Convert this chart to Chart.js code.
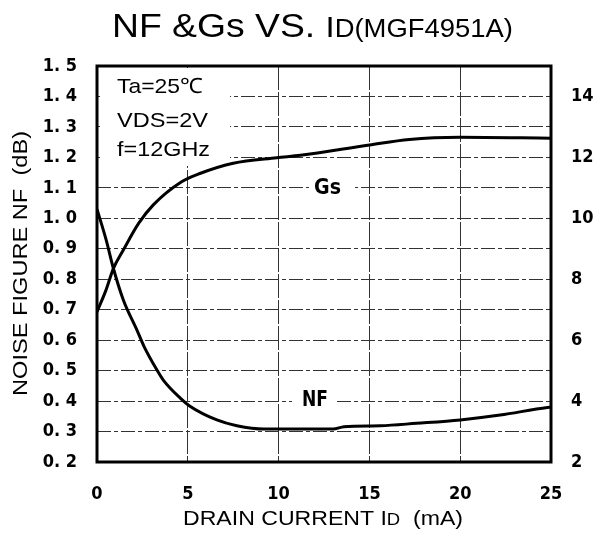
<!DOCTYPE html>
<html>
<head>
<meta charset="utf-8">
<script src="https://cdn.jsdelivr.net/npm/chart.js@4.4.0/dist/chart.umd.min.js"></script>
<style>
    html, body { margin: 0; padding: 0; background: #fff; }
    #wrap { width: 594px; height: 541px; }
</style>
</head>
<body>
<div id="wrap"><canvas id="nfgs-chart" width="594" height="541"></canvas></div>
<script>
// Drain current (mA) -> noise figure (dB), left axis
const nfCurrent = [0, 0.5, 0.9, 1.45, 2.2, 2.6, 3.3, 3.65, 4.6, 5.1, 6.6, 7.7, 9.2, 11, 13, 13.6, 15.6, 17.6, 20, 22.2, 24.8, 25];
const nfValues  = [1.03, 0.93, 0.836, 0.732, 0.633, 0.578, 0.502, 0.469, 0.409, 0.384, 0.338, 0.319, 0.308, 0.308, 0.308, 0.316, 0.319, 0.327, 0.338, 0.354, 0.379, 0.38];

// Drain current (mA) -> associated gain Gs (dB), right axis
const gsCurrent = [0, 0.5, 0.9, 1.45, 2.3, 3.1, 4.66, 5.7, 7.5, 9.9, 11.2, 15, 17.2, 20, 25];
const gsValues  = [6.93, 7.65, 8.35, 8.96, 9.84, 10.44, 11.2, 11.48, 11.81, 11.99, 12.07, 12.41, 12.59, 12.66, 12.63];

// Tick values
const currentTicks = [0, 5, 10, 15, 20, 25];
const nfTicks = [0.2, 0.3, 0.4, 0.5, 0.6, 0.7, 0.8, 0.9, 1.0, 1.1, 1.2, 1.3, 1.4, 1.5];
const gsTicks = [2, 4, 6, 8, 10, 12, 14];

const SANS = "'Liberation Sans', Arial, sans-serif";
const NARROW = "'Liberation Sans Narrow', 'DejaVu Sans Condensed', sans-serif";
const tickFont = { family: NARROW, size: 18, weight: 'bold' };

/**
 * Draw text made of parts with different sizes, squeezed to a given width.
 */
function drawParts(ctx, parts, family, weight, width) {
    let w = 0;
    parts.forEach(p => {
        ctx.font = `${weight} ${p[1]}px ${family}`;
        w += ctx.measureText(p[0]).width;
    });
    ctx.scale(width ? width / w : 1, 1);
    let cx = 0;
    parts.forEach(p => {
        ctx.font = `${weight} ${p[1]}px ${family}`;
        ctx.fillText(p[0], cx, 0);
        cx += ctx.measureText(p[0]).width;
    });
}

const labelsPlugin = {
    id: 'labels',
    beforeDatasetsDraw(chart) {
        const ctx = chart.ctx;
        ctx.save();
        // blank areas behind the condition box and the curve labels
        ctx.fillStyle = '#fff';
        ctx.fillRect(100, 68, 130, 98);
        ctx.fillRect(309, 176, 46, 21);
        ctx.fillRect(292, 386, 45, 24);

        ctx.fillStyle = '#000';
        ctx.textAlign = 'left';
        ctx.textBaseline = 'alphabetic';
        [['Ta=25℃', 93, 86], ['VDS=2V', 127, 91], ['f=12GHz', 156, 93]].forEach(t => {
            ctx.save();
            ctx.translate(117, t[1]);
            drawParts(ctx, [[t[0], 21]], SANS, 'normal', t[2]);
            ctx.restore();
        });

        ctx.save();
        ctx.translate(314, 194);
        drawParts(ctx, [['Gs', 22]], NARROW, 'bold', 27);
        ctx.restore();

        ctx.save();
        ctx.translate(302, 406);
        drawParts(ctx, [['NF', 21]], NARROW, 'bold', 26);
        ctx.restore();
        ctx.restore();
    },
    afterDraw(chart) {
        const ctx = chart.ctx;
        const a = chart.chartArea;
        ctx.save();
        ctx.strokeStyle = '#000';
        ctx.lineWidth = 3;
        ctx.setLineDash([]);
        ctx.strokeRect(a.left, a.top, a.right - a.left, a.bottom - a.top);

        ctx.fillStyle = '#000';
        ctx.textAlign = 'left';
        ctx.textBaseline = 'alphabetic';

        // title
        ctx.save();
        ctx.translate(112, 37);
        drawParts(ctx, [['NF &Gs VS. ', 34], ['I', 30], ['D(MGF4951A)', 25]], SANS, 'normal', 401);
        ctx.restore();

        // x axis title
        ctx.save();
        ctx.translate(183, 525);
        drawParts(ctx, [['DRAIN CURRENT I', 20], ['D', 16], ['  (mA)', 20]], SANS, 'normal', 280);
        ctx.restore();

        // y axis title
        ctx.save();
        ctx.translate(27, 396);
        ctx.rotate(-Math.PI / 2);
        drawParts(ctx, [['NOISE FIGURE NF  (dB)', 21]], SANS, 'normal', 265);
        ctx.restore();
        ctx.restore();
    }
};

const ctx = document.getElementById('nfgs-chart');

new Chart(ctx, {
    type: 'line',
    data: {
        datasets: [
            {
                label: 'NF',
                data: nfCurrent.map((x, i) => ({ x: x, y: nfValues[i] })),
                yAxisID: 'y',
                borderColor: '#000',
                borderWidth: 3,
                pointRadius: 0,
                cubicInterpolationMode: 'monotone'
            },
            {
                label: 'Gs',
                data: gsCurrent.map((x, i) => ({ x: x, y: gsValues[i] })),
                yAxisID: 'y2',
                borderColor: '#000',
                borderWidth: 3,
                pointRadius: 0,
                cubicInterpolationMode: 'monotone'
            }
        ]
    },
    options: {
        responsive: false,
        animation: false,
        layout: { padding: { top: 66, left: 0, right: 0, bottom: 0 } },
        plugins: {
            legend: { display: false },
            tooltip: { enabled: false },
            title: { display: false }
        },
        scales: {
            x: {
                type: 'linear',
                min: 0,
                max: 25,
                afterBuildTicks: s => { s.ticks = currentTicks.map(v => ({ value: v })); },
                afterFit: s => { s.height = 79; },
                ticks: { font: tickFont, color: '#000', padding: 22, maxRotation: 0 },
                grid: { color: '#333', lineWidth: 1, drawTicks: false },
                border: { display: false, dash: [24, 2] }
            },
            y: {
                type: 'linear',
                position: 'left',
                min: 0.2,
                max: 1.5,
                afterBuildTicks: s => { s.ticks = nfTicks.map(v => ({ value: v })); },
                afterFit: s => { s.width = 97; },
                ticks: {
                    font: tickFont,
                    color: '#000',
                    padding: 20,
                    callback: v => v.toFixed(1).replace('.', '. ')
                },
                grid: { color: '#333', lineWidth: 1, drawTicks: false },
                border: { display: false, dash: [14, 3, 4, 3] }
            },
            y2: {
                type: 'linear',
                position: 'right',
                min: 2,
                max: 15,
                afterBuildTicks: s => { s.ticks = gsTicks.map(v => ({ value: v })); },
                afterFit: s => { s.width = 43; },
                ticks: { font: tickFont, color: '#000', padding: 20 },
                grid: { drawOnChartArea: false, drawTicks: false },
                border: { display: false }
            }
        }
    },
    plugins: [labelsPlugin]
});
</script>
</body>
</html>
